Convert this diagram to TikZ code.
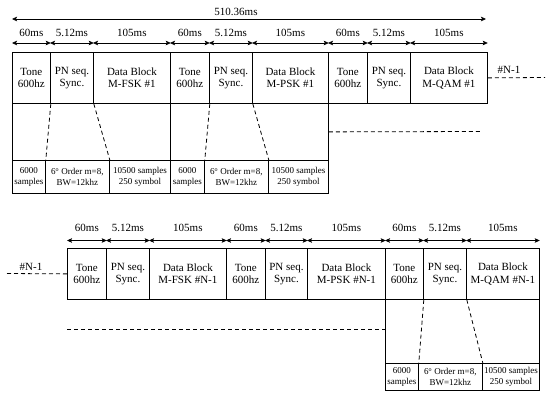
\documentclass[tikz,border=0pt]{standalone}
\usepackage{fontspec}
\setmainfont{Liberation Serif}
\usetikzlibrary{arrows.meta}
\begin{document}
\begin{tikzpicture}[x=1pt,y=-1pt,
  cell/.style={draw, line width=0.8pt, anchor=north west, inner sep=0pt, align=center, font=\fontsize{11}{12.5}\selectfont},
  small/.style={cell, font=\fontsize{9}{10.5}\selectfont},
  dim/.style={{Stealth[length=5pt,width=4.5pt,inset=1pt]}-{Stealth[length=5pt,width=4.5pt,inset=1pt]}, line width=0.8pt},
  dlab/.style={font=\fontsize{11}{12}\selectfont, inner sep=0pt},
  dashline/.style={dash pattern=on 4pt off 3pt, line width=0.8pt}
]
\useasboundingbox (0,0) rectangle (550,395);

% ---------- first sequence ----------
\node[cell, minimum width=38pt, minimum height=51pt] (t1) at (12,52) {Tone\\600hz};
\node[cell, minimum width=43pt, minimum height=51pt] (t2) at (50,52) {PN seq.\\Sync.};
\node[cell, minimum width=77pt, minimum height=51pt] (t3) at (93,52) {Data Block\\M-FSK \#1};
\node[cell, minimum width=39pt, minimum height=51pt] (t4) at (170,52) {Tone\\600hz};
\node[cell, minimum width=43pt, minimum height=51pt] (t5) at (209,52) {PN seq.\\Sync.};
\node[cell, minimum width=76pt, minimum height=51pt] (t6) at (252,52) {Data Block\\M-PSK \#1};
\node[cell, minimum width=39pt, minimum height=51pt] (t7) at (328,52) {Tone\\600hz};
\node[cell, minimum width=43pt, minimum height=51pt] (t8) at (367,52) {PN seq.\\Sync.};
\node[cell, minimum width=77pt, minimum height=51pt] (t9) at (410,52) {Data Block\\M-QAM \#1};

\foreach \n/\l in {t1/60ms,t2/5.12ms,t3/105ms,t4/60ms,t5/5.12ms,t6/105ms,t7/60ms,t8/5.12ms,t9/105ms}
  \draw[dim] ([yshift=9pt]\n.north west) -- ([yshift=9pt]\n.north east) node[midway, above=6pt, dlab] {\l};

\coordinate (tot1) at (12,19);
\coordinate (tot2) at (486,19);
\draw[dim] (tot1) -- (tot2);
\node[dlab] (totl) at (236,12) {510.36ms};

\coordinate (e1) at (545,77.5);
\draw[dashline] (t9.east) -- (e1);
\node[dlab] (n1) at (509,70) {\#N-1};

\node[cell, minimum width=158pt, minimum height=57pt] (u1) at (12,103) {};
\node[cell, minimum width=158pt, minimum height=57pt] (u2) at (170,103) {};
\node[small, minimum width=33pt, minimum height=33pt] (b1) at (12,160) {6000\\samples};
\node[small, minimum width=64pt, minimum height=33pt] (b2) at (45,160) {6\textsuperscript{o} Order m=8,\\BW=12khz};
\node[small, minimum width=61pt, minimum height=33pt] (b3) at (109,160) {10500 samples\\250 symbol};
\node[small, minimum width=34pt, minimum height=33pt] (b4) at (170,160) {6000\\samples};
\node[small, minimum width=64pt, minimum height=33pt] (b5) at (204,160) {6\textsuperscript{o} Order m=8,\\BW=12khz};
\node[small, minimum width=60pt, minimum height=33pt] (b6) at (268,160) {10500 samples\\250 symbol};

\draw[dashline] (t1.south east) -- (b1.north east);
\draw[dashline] (t2.south east) -- (b2.north east);
\draw[dashline] (t4.south east) -- (b4.north east);
\draw[dashline] (t5.south east) -- (b5.north east);

\coordinate (h1) at (482,131.5);
\draw[dashline] (u2.east) -- (h1);

% ---------- second sequence ----------
\node[cell, minimum width=39pt, minimum height=51pt] (s1) at (67,248) {Tone\\600hz};
\node[cell, minimum width=43pt, minimum height=51pt] (s2) at (106,248) {PN seq.\\Sync.};
\node[cell, minimum width=77pt, minimum height=51pt] (s3) at (149,248) {Data Block\\M-FSK \#N-1};
\node[cell, minimum width=39pt, minimum height=51pt] (s4) at (226,248) {Tone\\600hz};
\node[cell, minimum width=42pt, minimum height=51pt] (s5) at (265,248) {PN seq.\\Sync.};
\node[cell, minimum width=78pt, minimum height=51pt] (s6) at (307,248) {Data Block\\M-PSK \#N-1};
\node[cell, minimum width=38pt, minimum height=51pt] (s7) at (385,248) {Tone\\600hz};
\node[cell, minimum width=43pt, minimum height=51pt] (s8) at (423,248) {PN seq.\\Sync.};
\node[cell, minimum width=73pt, minimum height=51pt] (s9) at (466,248) {Data Block\\M-QAM \#N-1};

\foreach \n/\l in {s1/60ms,s2/5.12ms,s3/105ms,s4/60ms,s5/5.12ms,s6/105ms,s7/60ms,s8/5.12ms,s9/105ms}
  \draw[dim] ([yshift=7.5pt]\n.north west) -- ([yshift=7.5pt]\n.north east) node[midway, above=8.5pt, dlab] {\l};

\coordinate (l2) at (7,273.5);
\draw[dashline] (l2) -- (s1.west);
\node[dlab] (n2) at (31,267) {\#N-1};

\node[cell, minimum width=154pt, minimum height=64pt] (u3) at (385,299) {};
\node[small, minimum width=33pt, minimum height=27pt] (c1) at (385,363) {6000\\samples};
\node[small, minimum width=64pt, minimum height=27pt] (c2) at (418,363) {6\textsuperscript{o} Order m=8,\\BW=12khz};
\node[small, minimum width=57pt, minimum height=27pt] (c3) at (482,363) {10500 samples\\250 symbol};

\draw[dashline] (s7.south east) -- (c1.north east);
\draw[dashline] (s8.south east) -- (c2.north east);

\coordinate (h2) at (67,329);
\draw[dashline] (h2) -- (u3.west |- h2);
\end{tikzpicture}
\end{document}
